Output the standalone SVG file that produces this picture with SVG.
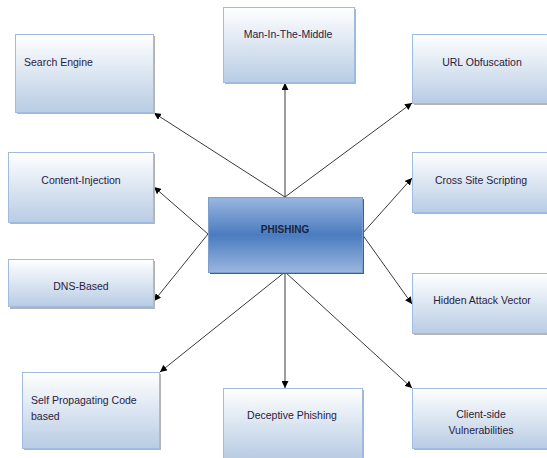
<svg xmlns="http://www.w3.org/2000/svg" width="547" height="458" viewBox="0 0 547 458">
<defs>
<linearGradient id="gBox" x1="0" y1="0" x2="0" y2="1">
<stop offset="0" stop-color="#ffffff"/>
<stop offset="1" stop-color="#b8cce4"/>
</linearGradient>
<linearGradient id="gMain" x1="0" y1="0" x2="0" y2="1">
<stop offset="0" stop-color="#9bb6de"/>
<stop offset="0.5" stop-color="#4a7cc0"/>
<stop offset="1" stop-color="#9bb6de"/>
</linearGradient>
<marker id="arr" viewBox="0 0 10 10" refX="10" refY="5" markerWidth="7" markerHeight="7" markerUnits="userSpaceOnUse" orient="auto">
<path d="M0,0 L10,5 L0,10 z" fill="#000"/>
</marker>
</defs>
<style>
.box{fill:url(#gBox);stroke:#9fbbdf;stroke-width:1}
.sh{fill:#b4b4b4}
.t{font-family:"Liberation Sans",Arial,sans-serif;font-size:10.5px;fill:#2b2040}
.c{text-anchor:middle}
.main{fill:url(#gMain);stroke:#7c9fd0;stroke-width:1}
.mt{font-family:"Liberation Sans",Arial,sans-serif;font-size:10px;font-weight:bold;fill:#1a2340;text-anchor:middle}
.ln{stroke:#3a3a3a;stroke-width:1;fill:none;marker-end:url(#arr)}
</style>
<rect width="547" height="458" fill="#ffffff"/>
<g id="connectors">
<line class="ln" x1="285" y1="197" x2="285" y2="83"/>
<line class="ln" x1="285" y1="197" x2="154" y2="113"/>
<line class="ln" x1="285" y1="197" x2="412" y2="103"/>
<line class="ln" x1="208" y1="234" x2="154" y2="187"/>
<line class="ln" x1="208" y1="234" x2="154" y2="301"/>
<line class="ln" x1="362" y1="234" x2="412" y2="178"/>
<line class="ln" x1="362" y1="234" x2="412" y2="304"/>
<line class="ln" x1="285" y1="272" x2="160" y2="372"/>
<line class="ln" x1="285" y1="272" x2="285" y2="388"/>
<line class="ln" x1="285" y1="272" x2="412" y2="388"/>
</g>
<g id="search-engine">
<rect class="sh" x="17" y="36" width="138" height="78"/>
<rect class="box" x="15.5" y="34.5" width="138" height="78"/>
<text class="t" x="24" y="66">Search Engine</text>
</g>
<g id="mitm">
<rect class="sh" x="225" y="9" width="131" height="75"/>
<rect class="box" x="223.5" y="7.5" width="131" height="75"/>
<text class="t c" x="288" y="38">Man-In-The-Middle</text>
</g>
<g id="url-obfuscation">
<rect class="sh" x="414" y="36" width="140" height="69"/>
<rect class="box" x="412.5" y="34.5" width="140" height="69"/>
<text class="t c" x="482" y="66">URL Obfuscation</text>
</g>
<g id="content-injection">
<rect class="sh" x="10" y="154" width="145" height="70"/>
<rect class="box" x="8.5" y="152.5" width="145" height="70"/>
<text class="t c" x="81" y="184">Content-Injection</text>
</g>
<g id="dns-based">
<rect class="sh" x="10" y="261" width="145" height="48"/>
<rect class="box" x="8.5" y="259.5" width="145" height="47"/>
<text class="t c" x="81" y="290">DNS-Based</text>
</g>
<g id="cross-site-scripting">
<rect class="sh" x="414" y="154" width="140" height="60"/>
<rect class="box" x="412.5" y="152.5" width="140" height="60"/>
<text class="t c" x="481" y="184">Cross Site Scripting</text>
</g>
<g id="hidden-attack-vector">
<rect class="sh" x="414" y="275" width="140" height="60"/>
<rect class="box" x="412.5" y="273.5" width="140" height="60"/>
<text class="t c" x="482" y="304">Hidden Attack Vector</text>
</g>
<g id="phishing">
<rect x="210" y="199" width="154" height="75" fill="#3d5f8f"/>
<rect class="main" x="208.5" y="197.5" width="154" height="75"/>
<text class="mt" x="285" y="233">PHISHING</text>
</g>
<g id="self-propagating">
<rect class="sh" x="24" y="374" width="137" height="76"/>
<rect class="box" x="22.5" y="372.5" width="137" height="76"/>
<text class="t" x="31" y="404">Self Propagating Code</text>
<text class="t" x="31" y="420">based</text>
</g>
<g id="deceptive-phishing">
<rect class="sh" x="225" y="390" width="139" height="70"/>
<rect class="box" x="223.5" y="388.5" width="139" height="70"/>
<text class="t c" x="292" y="419">Deceptive Phishing</text>
</g>
<g id="client-side">
<rect class="sh" x="414" y="390" width="140" height="60"/>
<rect class="box" x="412.5" y="388.5" width="140" height="60"/>
<text class="t c" x="481" y="418">Client-side</text>
<text class="t c" x="481" y="434">Vulnerabilities</text>
</g>
</svg>
